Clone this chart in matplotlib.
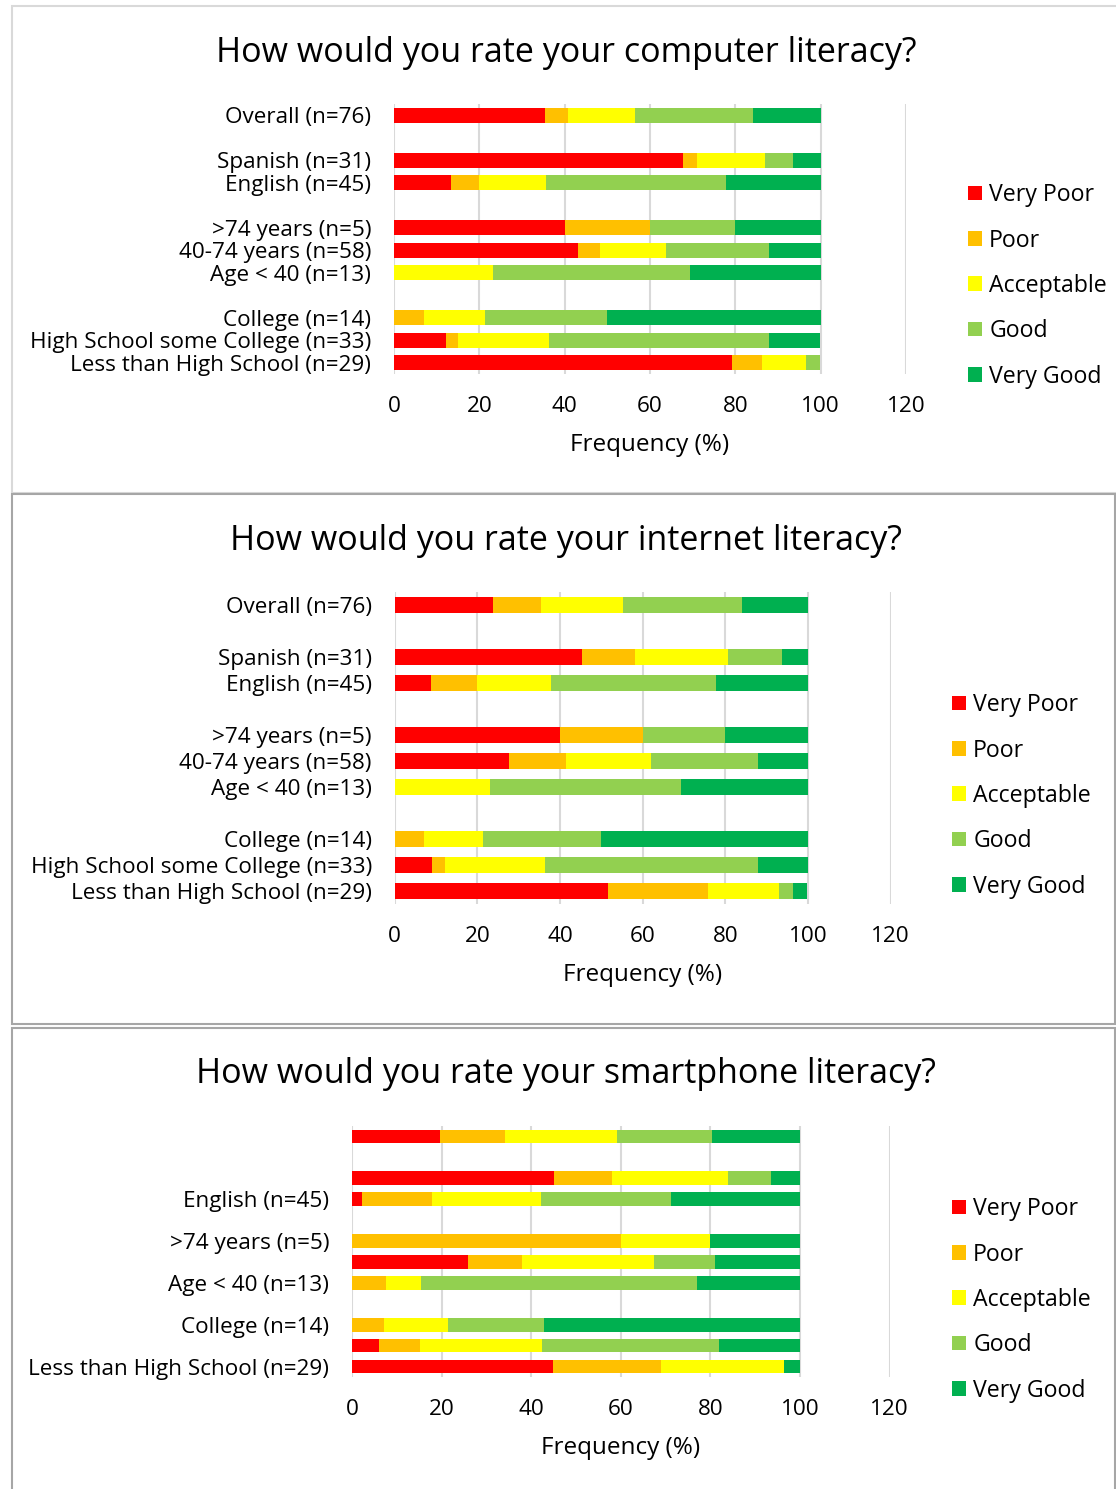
import numpy as np
import matplotlib
matplotlib.use("Agg")
import matplotlib.pyplot as plt
from matplotlib.patches import Rectangle

plt.rcParams['font.family'] = ['Open Sans', 'DejaVu Sans']

# ---- data (percent per rating) ----
groups = ["Overall (n=76)", "", "Spanish (n=31)", "English (n=45)", "",
          ">74 years (n=5)", "40-74 years (n=58)", "Age < 40 (n=13)", "",
          "College (n=14)", "High School some College (n=33)",
          "Less than High School (n=29)"]
ratings = ["Very Poor", "Poor", "Acceptable", "Good", "Very Good"]
colors = ["#FF0000", "#FFC000", "#FFFF00", "#92D050", "#00B050"]

# rows: Overall, Spanish, English, >74, 40-74, <40, College, HS some, <HS
computer_vp = [35.5, 67.7, 13.3, 40.0, 43.1, 0.0, 0.0, 12.1, 79.3]
computer_p  = [5.3, 3.2, 6.7, 20.0, 5.2, 0.0, 7.1, 3.0, 6.9]
computer_a  = [15.8, 16.1, 15.6, 0.0, 15.5, 23.1, 14.3, 21.2, 10.3]
computer_g  = [27.6, 6.5, 42.2, 20.0, 24.1, 46.2, 28.6, 51.5, 3.4]
computer_vg = [15.8, 6.5, 22.2, 20.0, 12.1, 30.8, 50.0, 12.1, 0.0]

internet_vp = [23.7, 45.2, 8.9, 40.0, 27.6, 0.0, 0.0, 9.1, 51.7]
internet_p  = [11.8, 12.9, 11.1, 20.0, 13.8, 0.0, 7.1, 3.0, 24.1]
internet_a  = [19.7, 22.6, 17.8, 0.0, 20.7, 23.1, 14.3, 24.2, 17.2]
internet_g  = [28.9, 12.9, 40.0, 20.0, 25.9, 46.2, 28.6, 51.5, 3.4]
internet_vg = [15.8, 6.5, 22.2, 20.0, 12.1, 30.8, 50.0, 12.1, 3.4]

smart_vp = [19.7, 45.2, 2.2, 0.0, 25.9, 0.0, 0.0, 6.1, 44.8]
smart_p  = [14.5, 12.9, 15.6, 60.0, 12.1, 7.7, 7.1, 9.1, 24.1]
smart_a  = [25.0, 25.8, 24.4, 20.0, 29.3, 7.7, 14.3, 27.3, 27.6]
smart_g  = [21.1, 9.7, 28.9, 0.0, 13.8, 61.5, 21.4, 39.4, 0.0]
smart_vg = [19.7, 6.5, 28.9, 20.0, 19.0, 23.1, 57.1, 18.2, 3.4]

row_slots = [0, 2, 3, 5, 6, 7, 9, 10, 11]   # blank slots separate the groups

W, H = 1116, 1489
fig = plt.figure(figsize=(W / 100, H / 100), dpi=100)


def px_box(x0, y0, x1, y1):
    return [x0 / W, 1 - y1 / H, (x1 - x0) / W, (y1 - y0) / H]


def panel(series, title, box, axbox, title_y, legend_xy, label_every=1,
          border="#d9d9d9"):
    # panel frame
    fig.patches.append(Rectangle((box[0] / W, 1 - box[3] / H),
                                 (box[2] - box[0]) / W, (box[3] - box[1]) / H,
                                 transform=fig.transFigure, fill=False,
                                 edgecolor=border, linewidth=1.5))
    ax = fig.add_axes(px_box(*axbox))
    left = np.zeros(len(row_slots))
    handles = []
    for vals, name, c in zip(series, ratings, colors):
        b = ax.barh(row_slots, vals, left=left, height=0.65, color=c,
                    label=name, zorder=3)
        handles.append(b)
        left += np.array(vals)
    ax.set_xlim(0, 120)
    ax.set_ylim(11.5, -0.5)
    ax.set_xticks(range(0, 121, 20))
    ax.set_yticks(range(len(groups)))
    labels = [g if (11 - i) % label_every == 0 else "" for i, g in enumerate(groups)]
    ax.set_yticklabels(labels)
    ax.tick_params(length=0, labelsize=16.2)
    ax.tick_params(axis="y", pad=16.5)
    ax.tick_params(axis="x", pad=15.5)
    ax.grid(axis="x", color="#d9d9d9", linewidth=1.5, zorder=0)
    for s in ax.spines.values():
        s.set_visible(False)
    ax.set_xlabel("Frequency (%)", fontsize=17.5, labelpad=12)
    fig.text(566 / W, 1 - title_y / H, title,
             ha="center", va="center", fontsize=24.5)
    ax.legend(handles=handles, loc="upper left",
              bbox_to_anchor=(legend_xy[0] / W, 1 - legend_xy[1] / H),
              bbox_transform=fig.transFigure, frameon=False, fontsize=16.7,
              handlelength=0.6, handleheight=0.6, handletextpad=0.3,
              labelspacing=0.92, borderaxespad=0)
    return ax


panel([computer_vp, computer_p, computer_a, computer_g, computer_vg],
      "How would you rate your computer literacy?",
      (12, 6, 1130, 493), (394, 104, 906, 374), 53, (959, 174))
panel([internet_vp, internet_p, internet_a, internet_g, internet_vg],
      "How would you rate your internet literacy?",
      (12, 494, 1115, 1024), (394.7, 592, 890.7, 904), 541, (943, 684),
      border="#a6a6a6")
panel([smart_vp, smart_p, smart_a, smart_g, smart_vg],
      "How would you rate your smartphone literacy?",
      (12, 1028, 1115, 1500), (352, 1126, 889.6, 1377), 1074, (943, 1188),
      label_every=2, border="#a6a6a6")

fig.savefig("out.png", dpi=100)
